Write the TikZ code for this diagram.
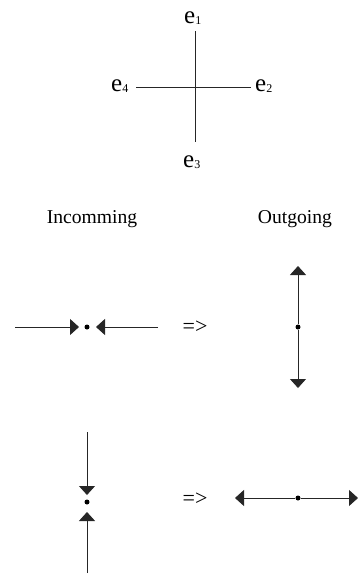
\documentclass[tikz,border=0pt]{standalone}
\usepackage{fontspec}
\setmainfont{Liberation Serif}
\usetikzlibrary{arrows.meta}
\newcommand\elab[1]{\fontsize{25}{25}\selectfont e\raisebox{-1pt}{\fontsize{12}{12}\selectfont #1}}
\tikzset{
  ln/.style={line width=0.8pt, draw=black!85},
  arr/.style={ln, -{Triangle[length=9pt,width=16pt]}},
  dot/.style={circle, fill=black, inner sep=0pt, minimum size=5pt},
  lbl/.style={anchor=base, inner sep=0pt, font=\fontsize{19.6}{20}\selectfont},
  elbl/.style={anchor=base west, inner sep=0pt},
}
\begin{document}
\begin{tikzpicture}[x=1pt,y=-1pt]
\useasboundingbox (0,0) rectangle (359,574);
% top cross
\coordinate (ct) at (195,31);
\coordinate (cb) at (195,142);
\coordinate (cl) at (136,87);
\coordinate (cr) at (251,87);
\draw[ln] (ct) -- (cb);
\draw[ln] (cl) -- (cr);
\node[elbl] (e1) at (184,23) {\elab{1}};
\node[elbl] (e2) at (255,91) {\elab{2}};
\node[elbl] (e3) at (183,167) {\elab{3}};
\node[elbl] (e4) at (111,91) {\elab{4}};
% headings
\node[lbl] (inc) at (92,223) {Incomming};
\node[lbl] (out) at (295,223) {Outgoing};
% row 1
\node[dot] (d1) at (87,327) {};
\coordinate (a1) at (15,327);
\coordinate (a2) at (158,327);
\draw[arr] (a1) -- (79,327);
\draw[arr] (a2) -- (96,327);
\node[anchor=center, inner sep=0pt, font=\fontsize{22}{22}\selectfont] (imp1) at (195,327) {=>};
\node[dot] (o1) at (298,327) {};
\coordinate (o1t) at (298,266);
\coordinate (o1b) at (298,388);
\draw[arr] (o1) -- (o1t);
\draw[arr] (o1) -- (o1b);
% row 2
\node[dot] (d2) at (87,502) {};
\coordinate (b1) at (87,432);
\coordinate (b2) at (87,573);
\draw[arr] (b1) -- (87,495);
\draw[arr] (b2) -- (87,512);
\node[anchor=center, inner sep=0pt, font=\fontsize{22}{22}\selectfont] (imp2) at (195,499) {=>};
\node[dot] (o2) at (298,498) {};
\coordinate (o2l) at (235,498);
\coordinate (o2r) at (358,498);
\draw[arr] (o2) -- (o2l);
\draw[arr] (o2) -- (o2r);
\end{tikzpicture}
\end{document}
